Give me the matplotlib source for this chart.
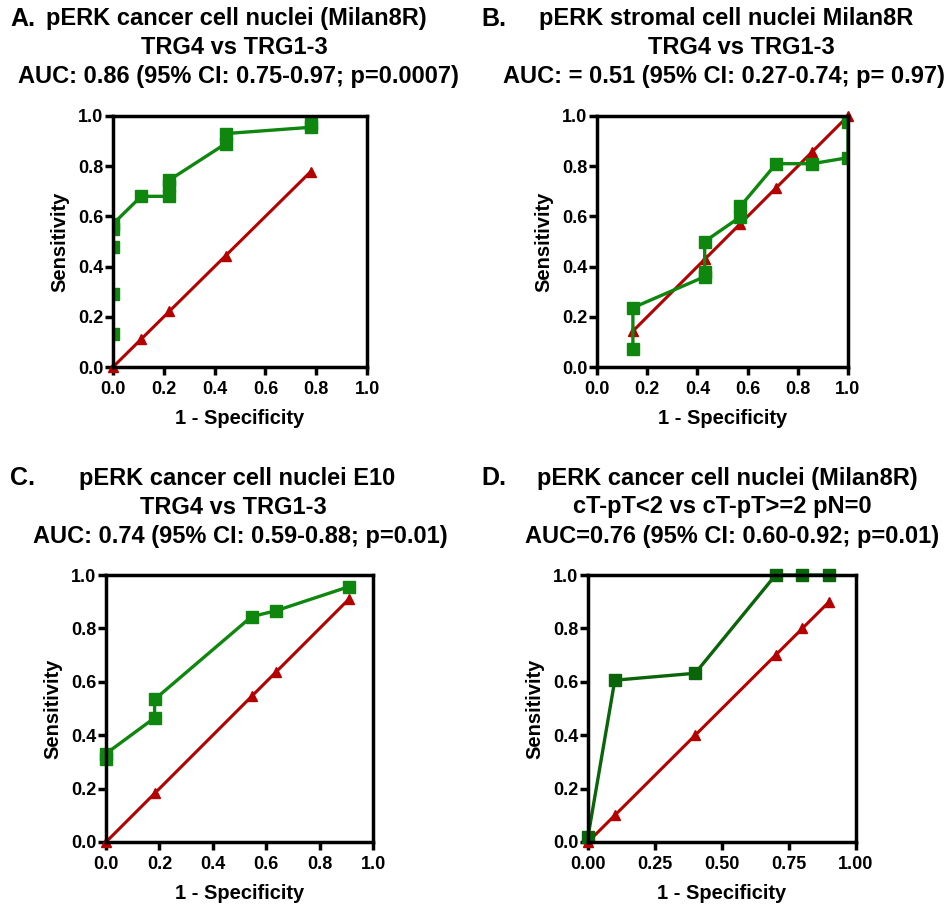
import matplotlib
matplotlib.use('Agg')
import matplotlib.pyplot as plt

plt.rcParams['font.family'] = ['Liberation Sans', 'DejaVu Sans']
plt.rcParams['font.weight'] = 'bold'

# panel A: pERK cancer cell nuclei (Milan8R), TRG4 vs TRG1-3
a_fpr = [0, 0, 0, 0, 0, 0.111, 0.222, 0.222, 0.222, 0.444, 0.444, 0.778, 0.778]
a_tpr = [0.133, 0.29, 0.48, 0.55, 0.57, 0.68, 0.68, 0.72, 0.745, 0.89, 0.93, 0.955, 0.97]
a_ref = [0, 0.111, 0.222, 0.444, 0.778]

# panel B: stromal cell nuclei
b_fpr = [0.143, 0.143, 0.429, 0.429, 0.429, 0.571, 0.571, 0.714, 0.857, 1.0, 1.0]
b_tpr = [0.07, 0.236, 0.36, 0.38, 0.5, 0.598, 0.64, 0.81, 0.81, 0.834, 0.976]
b_ref = [0.143, 0.429, 0.571, 0.714, 0.857, 1.0]

# panel C: E10
c_fpr = [0, 0, 0.182, 0.182, 0.545, 0.636, 0.909]
c_tpr = [0.312, 0.331, 0.465, 0.534, 0.844, 0.866, 0.956]
c_ref = [0, 0.182, 0.545, 0.636, 0.909]

# panel D: cT-pT<2 vs cT-pT>=2 pN=0
d_fpr = [0, 0.1, 0.4, 0.7, 0.8, 0.9]
d_tpr = [0.02, 0.606, 0.632, 1.0, 1.0, 1.0]
d_ref = [0, 0.1, 0.4, 0.7, 0.8, 0.9]

panels = [
    dict(letter='A.', fpr=a_fpr, tpr=a_tpr, ref=a_ref, green='#0f870f', clip=True,
         ticks=[0, 0.2, 0.4, 0.6, 0.8, 1.0], fmt='%.1f',
         rect=[113, 116, 367, 367],
         title=['pERK cancer cell nuclei (Milan8R)', 'TRG4 vs TRG1-3',
                'AUC: 0.86 (95% CI: 0.75-0.97; p=0.0007)'],
         tx=[236, 234, 238], ty=[19, 48, 77], lx=10),
    dict(letter='B.', fpr=b_fpr, tpr=b_tpr, ref=b_ref, green='#0f870f', clip=True,
         ticks=[0, 0.2, 0.4, 0.6, 0.8, 1.0], fmt='%.1f',
         rect=[597, 116, 848, 367],
         title=['pERK stromal cell nuclei Milan8R', 'TRG4 vs TRG1-3',
                'AUC: = 0.51 (95% CI: 0.27-0.74; p= 0.97)'],
         tx=[726, 741, 724], ty=[19, 48, 77], lx=481),
    dict(letter='C.', fpr=c_fpr, tpr=c_tpr, ref=c_ref, green='#0f870f', clip=False,
         ticks=[0, 0.2, 0.4, 0.6, 0.8, 1.0], fmt='%.1f',
         rect=[106, 575, 373, 842],
         title=['pERK cancer cell nuclei E10', 'TRG4 vs TRG1-3',
                'AUC: 0.74 (95% CI: 0.59-0.88; p=0.01)'],
         tx=[237, 233, 240], ty=[478, 507, 537], lx=10),
    dict(letter='D.', fpr=d_fpr, tpr=d_tpr, ref=d_ref, green='#0a640a', clip=False,
         ticks=[0, 0.25, 0.5, 0.75, 1.0], fmt='%.2f',
         rect=[588, 575, 856, 842],
         title=['pERK cancer cell nuclei (Milan8R)', 'cT-pT<2 vs cT-pT>=2 pN=0',
                'AUC=0.76 (95% CI: 0.60-0.92; p=0.01)'],
         tx=[727, 722, 732], ty=[478, 507, 537], lx=481),
]

W, H = 951, 906
fig = plt.figure(figsize=(W / 100, H / 100), dpi=100)
red = '#b50000'

for p in panels:
    x0, y0, x1, y1 = p['rect']
    ax = fig.add_axes([x0 / W, 1 - y1 / H, (x1 - x0) / W, (y1 - y0) / H])
    ax.plot(p['ref'], p['ref'], color=red, lw=2.2, marker='^', markersize=7,
            clip_on=False, zorder=3)
    ax.plot(p['fpr'], p['tpr'], color=p['green'], lw=2.4, marker='s', markersize=8.5,
            clip_on=p['clip'], zorder=4)
    ax.set_xlim(0, 1)
    ax.set_ylim(0, 1)
    ax.set_xticks(p['ticks'])
    ax.set_yticks([0, 0.2, 0.4, 0.6, 0.8, 1.0])
    ax.set_xticklabels([p['fmt'] % t for t in p['ticks']])
    ax.set_yticklabels(['%.1f' % t for t in [0, 0.2, 0.4, 0.6, 0.8, 1.0]])
    for s in ax.spines.values():
        s.set_linewidth(2.5)
        s.set_zorder(5)
    ax.tick_params(width=2.5, length=6, labelsize=13)
    ax.tick_params(axis='x', pad=4)
    ax.tick_params(axis='y', pad=1)
    ax.set_xlabel('1 - Specificity', fontsize=14.5, fontweight='bold', labelpad=8)
    ax.set_ylabel('Sensitivity', fontsize=14.5, fontweight='bold', labelpad=6)

    for line, x, y in zip(p['title'], p['tx'], p['ty']):
        fig.text(x / W, 1 - y / H, line, ha='center', va='center',
                 fontsize=17, fontweight='bold')
    fig.text(p['lx'] / W, 1 - p['ty'][0] / H, p['letter'], ha='left', va='center',
             fontsize=18, fontweight='bold')

fig.savefig('out.png', dpi=100)
